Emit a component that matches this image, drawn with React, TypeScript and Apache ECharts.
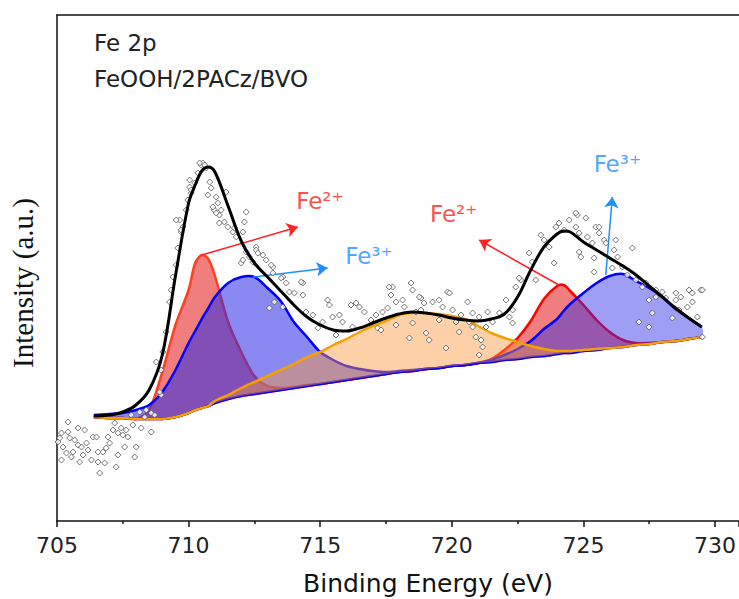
import React, { useEffect, useRef } from 'react';
import * as echarts from 'echarts';

// Binding energy grid (eV) shared by the fitted curves
const energy = [706.4, 707, 707.5, 708, 708.5, 709, 709.5, 710, 710.25, 710.5, 710.75, 711, 711.5, 712, 712.5, 713, 713.5, 714, 714.5, 715, 715.5, 716, 716.5, 717, 717.5, 718, 718.5, 719, 719.5, 720, 720.5, 721, 721.5, 722, 722.5, 723, 723.5, 724, 724.25, 724.5, 725, 725.5, 726, 726.5, 727, 727.5, 728, 728.5, 729, 729.5];

// Background (baseline) intensity
const baseline = [104, 103, 103, 102, 102, 102, 104, 108, 111, 113, 115, 118, 122, 125, 127, 129, 131, 133, 135, 137, 139, 141, 143, 145, 147, 149, 150, 152, 153, 155, 156, 158, 159, 161, 162, 164, 165, 167, 168, 168, 170, 171, 173, 174, 176, 177, 179, 180, 182, 184];

// Envelope (sum of fit)
const envelope = [105, 106, 109, 116, 131, 166, 245, 318, 336, 350, 354, 349, 315, 280, 258, 244, 230, 216, 204, 196, 191, 190, 193, 198, 203, 207, 209, 208, 206, 203, 201, 200, 202, 207, 224, 251, 274, 287, 290, 289, 279, 271, 263, 255, 246, 235, 224, 213, 203, 194];

// Fe2+ 2p3/2 component
const fe2Low = [104, 103, 103, 102, 111, 149, 196, 231, 258, 266, 262, 245, 199, 169, 145, 135, 133, 134, 136, 137, 139, 141, 143, 145, 147, 149, 150, 152, 153, 155, 156, 158, 159, 161, 162, 164, 165, 167, 168, 168, 170, 171, 173, 174, 176, 177, 179, 180, 182, 184];

// Fe3+ 2p3/2 component
const fe3Low = [106, 107, 108, 111, 116, 129, 151, 178, 190, 202, 213, 224, 238, 244, 244, 233, 220, 199, 184, 169, 161, 155, 152, 150, 149, 150, 151, 152, 153, 155, 156, 158, 159, 161, 162, 164, 165, 167, 168, 168, 170, 171, 173, 174, 176, 177, 179, 180, 182, 184];

// Satellite component
const satellite = [104, 103, 103, 102, 102, 102, 104, 108, 111, 113, 115, 120, 126, 133, 139, 145, 151, 157, 164, 169, 176, 182, 189, 195, 200, 206, 208, 208, 207, 205, 202, 195, 188, 183, 179, 175, 172, 170, 170, 170, 171, 172, 173, 174, 176, 177, 179, 180, 182, 184];

// Fe2+ 2p1/2 component
const fe2High = [104, 103, 103, 102, 102, 102, 104, 108, 111, 113, 115, 118, 122, 125, 127, 129, 131, 133, 135, 137, 139, 141, 143, 145, 147, 149, 150, 152, 153, 155, 156, 158, 162, 171, 183, 200, 222, 235, 236, 230, 216, 201, 189, 181, 178, 178, 179, 180, 182, 184];

// Fe3+ 2p1/2 component
const fe3High = [104, 103, 103, 102, 102, 102, 104, 108, 111, 113, 115, 118, 122, 125, 127, 129, 131, 133, 135, 137, 139, 141, 143, 145, 147, 149, 150, 152, 153, 155, 156, 158, 161, 166, 172, 180, 192, 202, 210, 217, 228, 238, 245, 247, 240, 233, 224, 212, 203, 194];

// Raw measured points [eV, intensity]
const rawPoints = [
  [705.10, 83], [705.04, 79], [705.23, 74], [705.48, 83], [705.42, 99], [705.42, 89], [705.80, 93], [706.05, 91], [705.67, 81], [705.80, 76],
  [705.61, 69], [705.93, 74], [706.12, 78], [706.18, 71], [705.99, 66], [705.86, 59], [706.31, 61], [706.37, 84], [706.50, 84], [706.56, 69],
  [706.62, 48], [706.56, 59], [706.81, 58], [706.75, 69], [706.87, 73], [706.94, 84], [707.00, 78], [707.13, 91], [707.19, 98], [707.25, 54],
  [707.31, 66], [707.31, 88], [707.44, 93], [707.50, 86], [707.63, 91], [707.69, 84], [707.57, 74], [707.88, 96], [707.95, 64], [708.01, 74],
  [708.20, 93], [708.58, 89], [705.17, 88], [705.36, 68], [705.55, 64], [705.17, 61],
  [707.82, 106], [708.14, 109], [708.33, 104], [708.58, 108], [708.39, 111], [708.71, 106], [708.96, 126], [708.90, 129], [708.77, 159], [708.96, 151],
  [709.02, 169], [709.15, 189],
  [709.28, 219], [709.34, 231], [709.40, 244], [709.53, 256], [709.59, 273], [709.72, 289], [709.78, 294], [709.66, 301], [709.91, 311], [709.97, 321],
  [710.10, 328], [710.04, 334], [710.23, 338], [710.35, 348], [710.48, 356], [710.54, 358], [710.67, 353], [710.80, 339], [710.86, 333], [710.73, 326],
  [711.05, 324], [711.11, 318], [710.98, 311], [711.24, 311], [711.17, 306], [711.43, 329], [711.36, 299], [711.49, 294], [711.68, 289], [711.81, 284],
  [711.74, 293], [712.12, 299], [712.19, 309], [712.06, 289], [712.00, 258], [712.19, 269], [712.44, 259], [710.42, 358], [710.61, 356], [710.04, 341],
  [710.10, 331], [709.53, 301], [709.72, 291], [710.92, 314], [711.05, 308], [711.17, 298], [712.57, 274], [712.95, 261], [713.20, 254], [713.58, 244],
  [714.34, 238],
  [712.06, 261], [712.31, 264], [712.57, 271], [712.63, 268], [712.82, 266], [713.14, 256], [713.20, 248], [713.52, 243], [713.71, 238], [714.28, 239],
  [713.83, 229], [714.02, 228], [714.34, 226], [713.26, 219], [713.07, 213], [713.58, 214], [714.72, 206], [714.46, 209], [715.28, 221], [715.35, 216],
  [715.09, 199], [714.91, 193], [715.47, 204], [715.73, 206], [715.85, 199], [716.17, 216], [716.36, 218], [716.49, 214], [716.68, 209], [716.23, 194],
  [715.60, 186], [716.93, 201], [717.12, 206], [717.37, 209], [717.56, 213], [717.75, 234], [717.69, 226], [717.88, 219], [718.13, 221], [718.20, 214],
  [718.45, 238], [718.51, 231], [718.64, 209], [718.83, 211], [718.83, 223], [718.95, 218], [719.27, 219], [719.52, 221], [719.84, 229], [719.65, 214],
  [720.03, 211], [720.35, 206], [720.60, 219], [720.79, 208], [721.04, 204], [721.36, 209], [721.55, 199], [717.18, 193], [717.31, 191], [717.88, 196],
  [718.39, 183], [719.02, 188], [719.14, 181], [719.78, 173], [720.28, 189], [720.79, 194], [721.11, 181], [721.17, 174], [721.04, 166], [718.51, 198],
  [719.52, 201], [720.16, 199], [720.66, 199], [720.91, 184], [717.62, 234], [718.77, 224], [719.91, 228],
  [721.30, 194], [721.81, 208], [722.19, 204], [722.31, 211], [722.06, 221], [722.43, 234], [722.62, 241], [722.94, 268], [723.06, 259], [723.19, 241],
  [723.38, 286], [723.51, 281], [723.70, 274], [723.89, 258], [723.95, 294], [724.07, 298], [724.27, 291], [724.46, 301], [724.77, 306], [724.71, 294],
  [724.84, 288], [725.09, 303], [725.15, 284], [725.34, 278], [725.47, 294], [724.84, 269], [724.90, 264], [725.41, 263], [725.60, 288], [725.79, 281],
  [725.85, 278], [726.17, 271], [726.23, 281], [726.86, 273], [726.10, 253], [726.48, 254], [726.67, 246], [726.99, 241], [727.24, 234], [727.37, 238],
  [727.49, 221], [727.75, 224], [728.00, 229], [728.13, 223], [728.51, 221], [728.70, 224], [729.01, 231], [729.14, 228], [729.46, 231], [729.14, 219],
  [728.95, 214], [729.33, 204], [728.63, 211], [728.38, 203], [727.62, 208], [727.49, 194], [727.11, 199], [725.41, 249], [722.31, 198], [722.56, 243],
  [729.52, 184], [724.71, 308], [725.60, 294], [726.30, 264], [727.75, 231], [728.51, 228], [729.52, 231],
];

// Annotations
const arrowFrom = [[710.5, 266], [712.45, 244], [724.07, 236], [725.85, 246]];
const arrowTo = [[714.15, 294], [715.28, 253], [721.04, 281], [726.10, 324]];
const labelText = ['Fe²⁺', 'Fe³⁺', 'Fe²⁺', 'Fe³⁺'];
const labelAt = [[714.07, 320], [715.93, 265], [719.15, 307], [725.37, 357]];

const xTicks = { min: 705, max: 730.9, interval: 5 };
const yRange = { min: 0, max: 506 };

const RED = '#ff2020';
const BLUE = '#1e8fff';
const annColors = [RED, BLUE, RED, BLUE];

function peakSeries(name: string, values: number[], stroke: string, fill: string, z: number) {
  return {
    type: 'custom',
    name,
    coordinateSystem: 'cartesian2d',
    silent: true,
    z,
    data: [[energy[0], baseline[0]]],
    encode: { x: 0, y: 1 },
    renderItem: (_params: any, api: any) => {
      const top = energy.map((x, i) => api.coord([x, values[i]]));
      const bottom = energy.map((x, i) => api.coord([x, baseline[i]])).reverse();
      return {
        type: 'group',
        children: [
          { type: 'polygon', shape: { points: top.concat(bottom), smooth: 0.3 }, style: { fill, stroke: 'none' } },
          { type: 'polyline', shape: { points: top, smooth: 0.3 }, style: { stroke, lineWidth: 2.5, fill: 'none' } },
        ],
      };
    },
  };
}

export default function App() {
  const ref = useRef<HTMLDivElement>(null);
  useEffect(() => {
    const chart = echarts.init(ref.current!, null, { renderer: 'svg' });
    const font = 'DejaVu Sans';
    chart.setOption({
      animation: false,
      backgroundColor: '#ffffff',
      grid: { left: 57, right: 0, top: 15, bottom: 78 },
      xAxis: [
        {
          type: 'value',
          min: xTicks.min,
          max: xTicks.max,
          interval: xTicks.interval,
          axisLine: { show: true, lineStyle: { color: '#111', width: 1.5 } },
          axisTick: { show: true, length: 6, lineStyle: { color: '#111', width: 1.5 } },
          minorTick: { show: true, splitNumber: 2, length: 3, lineStyle: { color: '#111', width: 1.5 } },
          axisLabel: { fontSize: 22, fontFamily: font, color: '#222', margin: 13, showMaxLabel: false },
          splitLine: { show: false },
        },
        {
          type: 'value',
          position: 'top',
          min: xTicks.min,
          max: xTicks.max,
          axisLine: { show: true, onZero: false, lineStyle: { color: '#111', width: 1.5 } },
          axisTick: { show: false },
          axisLabel: { show: false },
          splitLine: { show: false },
        },
      ],
      yAxis: {
        type: 'value',
        min: yRange.min,
        max: yRange.max,
        axisLine: { show: true, lineStyle: { color: '#111', width: 1.5 } },
        axisTick: { show: false },
        axisLabel: { show: false },
        splitLine: { show: false },
      },
      graphic: [
        { type: 'text', x: 94, y: 43, style: { text: 'Fe 2p', fontSize: 23, fontFamily: font, fill: '#222', align: 'left', verticalAlign: 'middle', textAlign: 'left', textVerticalAlign: 'middle' } },
        { type: 'text', x: 94, y: 79, style: { text: 'FeOOH/2PACz/BVO', fontSize: 23, fontFamily: font, fill: '#222', align: 'left', verticalAlign: 'middle', textAlign: 'left', textVerticalAlign: 'middle' } },
        { type: 'text', x: 428, y: 583, style: { text: 'Binding Energy (eV)', fontSize: 25, fontFamily: font, fill: '#111', align: 'center', verticalAlign: 'middle', textAlign: 'center', textVerticalAlign: 'middle' } },
        { type: 'text', x: 23, y: 283, rotation: Math.PI / 2, style: { text: 'Intensity (a.u.)', fontSize: 29, fontFamily: 'Liberation Serif', fill: '#111', align: 'center', verticalAlign: 'middle', textAlign: 'center', textVerticalAlign: 'middle' } },
      ],
      series: [
        peakSeries('Fe2+ 2p3/2', fe2Low, '#ff4020', 'rgba(230,40,40,0.6)', 2),
        peakSeries('Fe2+ 2p1/2', fe2High, '#ff0000', 'rgba(230,40,40,0.6)', 2),
        peakSeries('Fe3+ 2p3/2', fe3Low, '#0000ff', 'rgba(40,40,230,0.55)', 3),
        peakSeries('Fe3+ 2p1/2', fe3High, '#0000ff', 'rgba(40,40,230,0.45)', 3),
        peakSeries('Satellite', satellite, '#f5a000', 'rgba(250,150,60,0.45)', 4),
        {
          type: 'scatter',
          name: 'Raw',
          z: 5,
          symbol: 'diamond',
          symbolSize: 6,
          itemStyle: { color: '#ffffff', borderColor: '#555', borderWidth: 1 },
          data: rawPoints,
        },
        {
          type: 'line',
          name: 'Envelope',
          z: 6,
          smooth: 0.35,
          showSymbol: false,
          lineStyle: { color: '#000', width: 3 },
          data: energy.map((x, i) => [x, envelope[i]]),
        },
        {
          type: 'scatter',
          name: 'Annotations',
          z: 7,
          symbol: 'circle',
          symbolSize: 1,
          itemStyle: { color: 'rgba(0,0,0,0)' },
          data: labelAt.map((p, i) => ({
            name: labelText[i],
            value: p,
            label: { color: annColors[i] },
          })),
          label: { show: true, position: 'right', distance: 0, formatter: '{b}', fontSize: 23, fontFamily: font },
          markLine: {
            silent: true,
            symbol: ['none', 'arrow'],
            symbolSize: 11,
            label: { show: false },
            data: arrowFrom.map((p, i) => [
              { coord: p, lineStyle: { color: annColors[i], width: 1.5, type: 'solid' } },
              { coord: arrowTo[i] },
            ]),
          },
        },
      ],
    });
    return () => chart.dispose();
  }, []);
  return <div ref={ref} style={{ position: 'fixed', left: 0, top: 0, width: 739, height: 599, background: '#fff' }} />;
}
